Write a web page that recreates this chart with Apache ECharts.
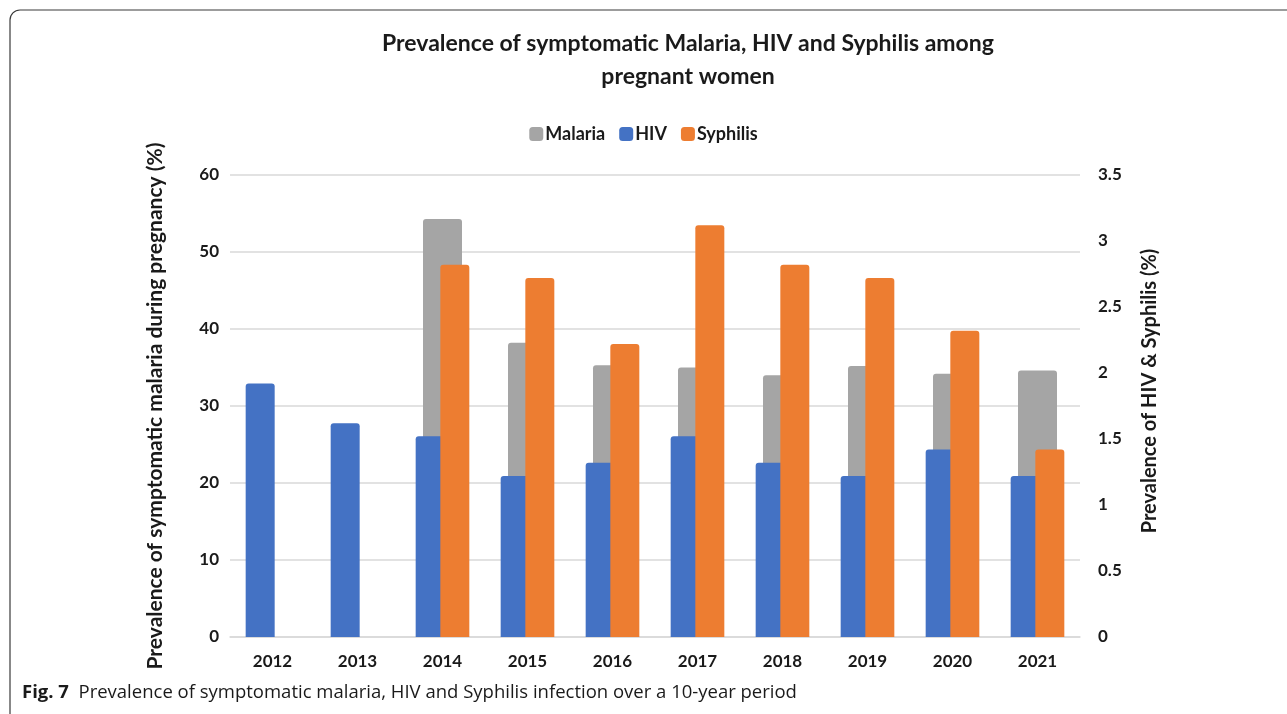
<!DOCTYPE html>
<html>
<head>
<meta charset="utf-8">
<script src="https://cdn.jsdelivr.net/npm/echarts@6/dist/echarts.min.js"></script>
<style>
  html, body { margin: 0; padding: 0; background: #fff; }
  #chart { width: 1287px; height: 714px; }
</style>
</head>
<body>
<div id="chart"></div>
<script>
var years = ['2012', '2013', '2014', '2015', '2016', '2017', '2018', '2019', '2020', '2021'];
// malaria on left axis (%), HIV & syphilis on right axis (%)
var malaria = [null, null, 54.3, 38.2, 35.3, 35.0, 34.0, 35.2, 34.2, 34.6];
var hiv = [1.92, 1.62, 1.52, 1.22, 1.32, 1.52, 1.32, 1.22, 1.42, 1.22];
var syphilis = [null, null, 2.82, 2.72, 2.22, 3.12, 2.82, 2.72, 2.32, 1.42];
var leftTicks = { min: 0, max: 60, interval: 10 };
var rightTicks = { min: 0, max: 3.5, interval: 0.5 };

var chartDom = document.getElementById('chart');
var myChart = echarts.init(chartDom);
var font = 'Lato, "Noto Sans", sans-serif';
var option;

option = {
  animation: false,
  textStyle: { fontFamily: font },
  title: {
    text: 'Prevalence of symptomatic Malaria, HIV and Syphilis among\npregnant women',
    left: 683,
    top: 22,
    textAlign: 'center',
    textStyle: { fontSize: 23, fontWeight: 'bold', color: '#1a1a1a', lineHeight: 33, fontFamily: font }
  },
  legend: {
    top: 120,
    left: 'center',
    itemWidth: 14,
    itemHeight: 14,
    itemGap: 14,
    icon: 'roundRect',
    textStyle: { fontSize: 18, fontWeight: 'bold', color: '#1a1a1a', padding: [0, 0, 0, -3] },
    data: ['Malaria', 'HIV', 'Syphilis']
  },
  grid: { left: 230, right: 207, top: 175, bottom: 77 },
  xAxis: [
    {
      type: 'category',
      data: years,
      axisLine: { show: true, lineStyle: { color: '#D9D9D9', width: 1.5 } },
      axisTick: { show: false },
      axisLabel: { fontSize: 17, fontWeight: 'bold', color: '#1a1a1a', margin: 16 }
    },
    {
      type: 'category',
      data: years,
      show: false
    }
  ],
  yAxis: [
    {
      type: 'value',
      min: leftTicks.min,
      max: leftTicks.max,
      interval: leftTicks.interval,
      name: 'Prevalence of symptomatic malaria during pregnancy (%)',
      nameLocation: 'middle',
      nameGap: 64,
      nameTextStyle: { fontSize: 21, fontWeight: 'bold', color: '#1a1a1a' },
      axisLine: { show: false },
      axisTick: { show: false },
      axisLabel: { fontSize: 17, fontWeight: 'bold', color: '#1a1a1a', margin: 11 },
      splitLine: { show: true, lineStyle: { color: '#D9D9D9', width: 1.5 } }
    },
    {
      type: 'value',
      min: rightTicks.min,
      max: rightTicks.max,
      interval: rightTicks.interval,
      name: 'Prevalence of HIV & Syphilis (%)',
      nameLocation: 'middle',
      nameGap: 60,
      nameTextStyle: { fontSize: 20, fontWeight: 'bold', color: '#1a1a1a', padding: [0, 0, 0, 30] },
      axisLine: { show: false },
      axisTick: { show: false },
      axisLabel: { fontSize: 17, fontWeight: 'bold', color: '#1a1a1a', margin: 18 },
      splitLine: { show: false }
    }
  ],
  series: [
    {
      name: 'Malaria',
      type: 'bar',
      xAxisIndex: 1,
      yAxisIndex: 0,
      barWidth: 39,
      itemStyle: { color: '#A5A5A5', borderRadius: [3, 3, 0, 0] },
      data: malaria
    },
    {
      name: 'HIV',
      type: 'bar',
      xAxisIndex: 0,
      yAxisIndex: 1,
      barWidth: 29,
      barGap: '-15%',
      itemStyle: { color: '#4472C4', borderRadius: [3, 3, 0, 0] },
      data: hiv
    },
    {
      name: 'Syphilis',
      type: 'bar',
      xAxisIndex: 0,
      yAxisIndex: 1,
      barWidth: 29,
      barGap: '-15%',
      itemStyle: { color: '#ED7D31', borderRadius: [3, 3, 0, 0] },
      data: syphilis
    }
  ],
  graphic: [
    {
      type: 'rect',
      shape: { x: 10, y: 10, width: 1300, height: 720, r: 10 },
      style: { fill: 'none', stroke: '#3a3a3a', lineWidth: 1.2 },
      silent: true,
      z: -1
    },
    {
      type: 'text',
      left: 22,
      top: 683,
      style: {
        text: '{b|Fig. 7}  Prevalence of symptomatic malaria, HIV and Syphilis infection over a 10-year period',
        fontSize: 18.5,
        fill: '#1a1a1a',
        fontFamily: '"Open Sans", sans-serif',
        rich: {
          b: { fontSize: 18.5, fontWeight: 'bold', fill: '#1a1a1a', fontFamily: '"Open Sans", sans-serif' }
        }
      }
    }
  ]
};

option && myChart.setOption(option);
</script>
</body>
</html>
